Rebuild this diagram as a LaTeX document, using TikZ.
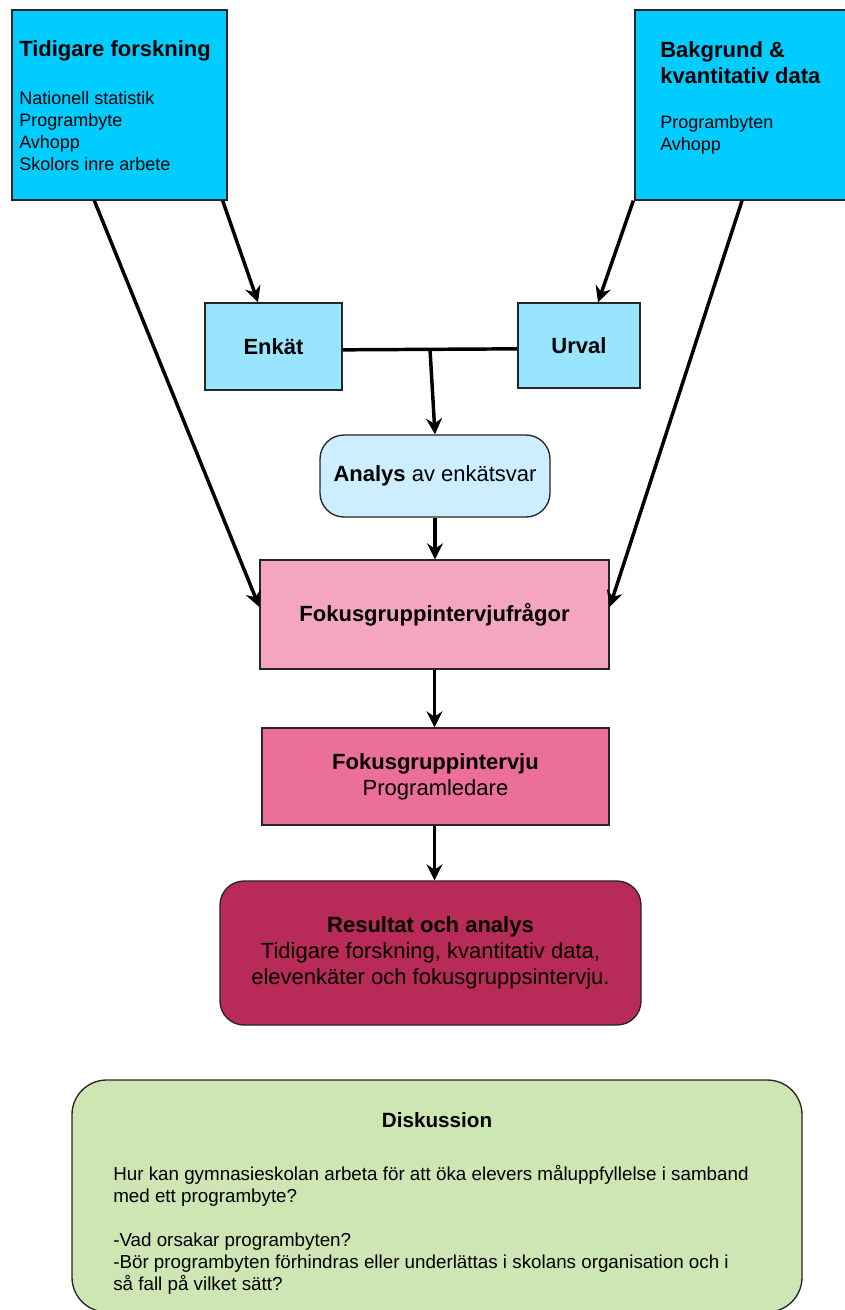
\documentclass[tikz,border=0pt]{standalone}
\usepackage{fontspec}
\setmainfont{Liberation Sans}
\usetikzlibrary{arrows.meta,calc}
\definecolor{cyanbox}{RGB}{0,204,255}
\definecolor{lightblue}{RGB}{153,228,255}
\definecolor{paleblue}{RGB}{204,238,255}
\definecolor{pinklight}{RGB}{244,166,192}
\definecolor{pinkmid}{RGB}{236,110,154}
\definecolor{wine}{RGB}{184,42,88}
\definecolor{palegreen}{RGB}{205,230,180}
\begin{document}
\begin{tikzpicture}[x=0.75pt,y=-0.75pt,
  box/.style={draw=black!85,line width=1pt,inner sep=0pt,align=center},
  big/.style={font=\fontsize{16.5}{19.5}\selectfont},
  small/.style={font=\fontsize{13.5}{16.5}\selectfont},
  txt/.style={anchor=north west,inner sep=0pt,align=left},
  arr/.style={line width=2.6pt,-{Stealth[length=12pt,width=12pt,inset=4pt]}},
  link/.style={line width=2.6pt}]
\useasboundingbox (0,0) rectangle (845,1310);
\fill[white] (0,0) rectangle (845,1310);
% top boxes
\node[box,fill=cyanbox,minimum width=161.25pt,minimum height=142.5pt] (tf) at (119.5,105) {};
\node[txt,small] (tft) at (19,40) {{\bfseries\fontsize{16.5}{19.5}\selectfont Tidigare forskning}\\[19.5pt]Nationell statistik\\Programbyte\\Avhopp\\Skolors inre arbete};
\node[box,fill=cyanbox,minimum width=165pt,minimum height=142.5pt] (bk) at (745,105) {};
\node[txt,small] (bkt) at (660,41) {{\bfseries\fontsize{16.5}{19.5}\selectfont Bakgrund \&}\\[3pt]{\bfseries\fontsize{16.5}{19.5}\selectfont kvantitativ data}\\[17.5pt]Programbyten\\Avhopp};
% middle boxes
\node[box,big,fill=lightblue,minimum width=102.75pt,minimum height=65.25pt] (en) at (273.5,346.5) {\bfseries Enkät};
\node[box,big,fill=lightblue,minimum width=91.5pt,minimum height=63.75pt] (ur) at (579,345.5) {\bfseries Urval};
\node[box,big,fill=paleblue,rounded corners=18pt,minimum width=172.5pt,minimum height=61.5pt] (an) at (435,476) {{\bfseries Analys} av enkätsvar};
\node[box,big,fill=pinklight,minimum width=261.75pt,minimum height=81.75pt] (fq) at (434.5,614.5) {\bfseries Fokusgruppintervjufrågor};
\node[box,big,fill=pinkmid,minimum width=260.25pt,minimum height=72.75pt] (fi) at (435.5,776.5) {{\bfseries Fokusgruppintervju}\\Programledare};
\node[box,big,fill=wine,rounded corners=18pt,minimum width=315.75pt,minimum height=108pt] (rs) at (430.5,953) {{\bfseries Resultat och analys}\\Tidigare forskning, kvantitativ data,\\elevenkäter och fokusgruppsintervju.};
% discussion
\node[box,fill=palegreen,rounded corners=26pt,minimum width=547.5pt,minimum height=174pt] (dk) at (437,1196) {};
\node[font=\bfseries\fontsize{15.5}{18}\selectfont] (dkt) at (437,1120) {Diskussion};
\node[txt,font=\fontsize{14.1}{16.5}\selectfont] (dkb) at (113,1165) {Hur kan gymnasieskolan arbeta för att öka elevers måluppfyllelse i samband\\med ett programbyte?\\[16.5pt]-Vad orsakar programbyten?\\-Bör programbyten förhindras eller underlättas i skolans organisation och i\\så fall på vilket sätt?};
% connectors
\draw[arr] ([xshift=62.25pt]tf.south west) -- ([yshift=5.6pt]fq.west);
\draw[arr] ([xshift=-3.75pt]tf.south east) -- ([xshift=-11.6pt]en.north);
\draw[arr] ([xshift=-0.75pt]bk.south west) -- ([xshift=14.25pt]ur.north);
\draw[arr] ([xshift=-2.25pt]bk.south) -- ([yshift=5.6pt]fq.east);
\draw[link] ([yshift=-2.5pt]en.east) -- ([yshift=-2.5pt]ur.west);
\coordinate (j) at ($([yshift=-2.5pt]en.east)!0.5!([yshift=-2.5pt]ur.west)$);
\draw[arr] (j) -- (an.north);
\draw[arr] (an.south) -- (an.south |- fq.north);
\draw[arr] (fq.south) -- (fq.south |- fi.north);
\draw[arr] (fq.south |- fi.south) -- (fq.south |- rs.north);
\end{tikzpicture}
\end{document}
